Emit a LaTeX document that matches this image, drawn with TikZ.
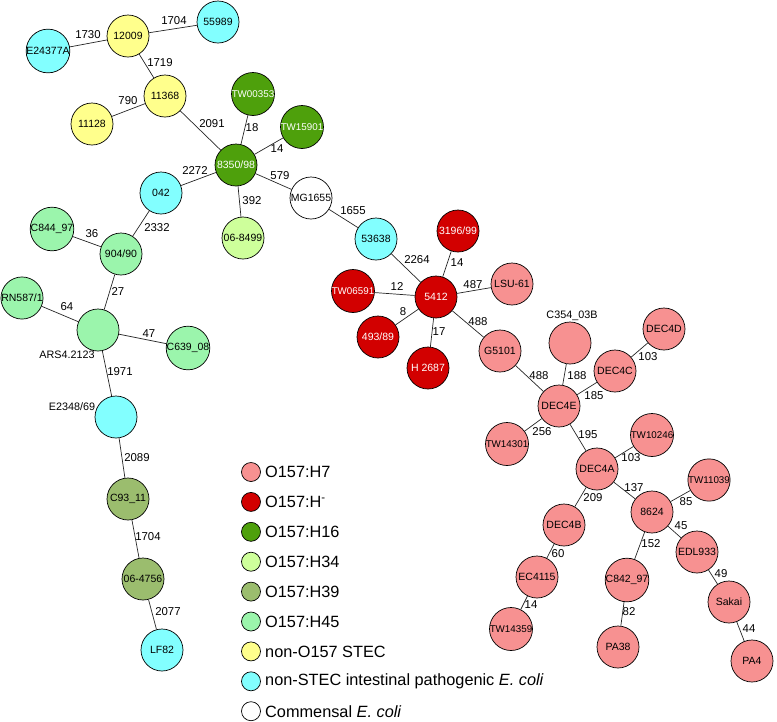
\documentclass[tikz,border=0pt]{standalone}
\usepackage{fontspec}
\setmainfont{Liberation Sans}
\usepackage{tikz}
\usetikzlibrary{positioning}

% colores por serotipo
\definecolor{hseven}{RGB}{247,145,145}
\definecolor{hminus}{RGB}{210,0,0}
\definecolor{hsixteen}{RGB}{78,160,12}
\definecolor{hthirtyfour}{RGB}{206,255,155}
\definecolor{hthirtynine}{RGB}{155,189,110}
\definecolor{hfortyfive}{RGB}{155,245,172}
\definecolor{stec}{RGB}{255,255,140}
\definecolor{nonstec}{RGB}{130,255,255}

\tikzset{
  strain/.style={circle, draw=black, line width=0.7pt, minimum size=42pt, inner sep=0pt, font=\fontsize{10.5}{12}\selectfont},
  twstrain/.style={strain, font=\fontsize{9.8}{11}\selectfont},
  link/.style={line width=0.7pt, draw=black!85},
  dist/.style={inner sep=0pt, font=\fontsize{11.4}{13}\selectfont},
  outlbl/.style={inner sep=0pt, font=\fontsize{10.8}{12}\selectfont},
  legdot/.style={circle, draw=black, line width=0.7pt, minimum size=19pt, inner sep=0pt},
  legtext/.style={anchor=west, inner sep=0pt, font=\fontsize{16.3}{19}\selectfont}
}

\begin{document}
\begin{tikzpicture}[x=1pt, y=-1pt]
    \useasboundingbox (0,0) rectangle (777,721);

    % 1. Cepas no-STEC (cian)
    \foreach \n/\x/\y/\t in {sE24377A/48/51/E24377A, s55989/218/22/55989, s042/161/193/042,
        s53638/376/239/53638, sE2348/116/417/{}, sLF82/162/650/LF82} {
        \node[strain, fill=nonstec] (\n) at (\x,\y) {\t};
    }

    % 2. STEC no-O157 (amarillo)
    \foreach \n/\x/\y/\t in {s12009/128/36/12009, s11368/165/96/11368, s11128/92/124/11128} {
        \node[strain, fill=stec] (\n) at (\x,\y) {\t};
    }

    % 3. O157:H16
    \node[twstrain, fill=hsixteen, text=white] (sTW00353) at (253,94) {TW00353};
    \node[twstrain, fill=hsixteen, text=white] (sTW15901) at (302,127) {TW15901};
    \node[strain, fill=hsixteen, text=white] (s8350) at (236,165) {8350/98};

    % 4. Comensal, H34, H39
    \node[strain, fill=white] (sMG1655) at (311,198) {MG1655};
    \node[strain, fill=hthirtyfour] (s068499) at (243,238) {06-8499};
    \node[strain, fill=hthirtynine] (sC9311) at (128,499) {C93\_11};
    \node[strain, fill=hthirtynine] (s064756) at (143,579) {06-4756};

    % 5. O157:H45
    \foreach \n/\x/\y/\t in {sC84497/52/229/C844\_97, s90490/121/254/{904/90}, sRN587/22/298/{RN587/1},
        sARS/98/330/{}, sC63908/188/348/C639\_08} {
        \node[strain, fill=hfortyfive] (\n) at (\x,\y) {\t};
    }

    % 6. O157:H- (rojo)
    \foreach \n/\x/\y/\t in {s319699/458/231/{3196/99}, s5412/436/297/5412, s49389/378/337/{493/89},
        sH2687/428/368/H 2687} {
        \node[strain, fill=hminus, text=white] (\n) at (\x,\y) {\t};
    }
    \node[twstrain, fill=hminus, text=white] (sTW06591) at (353,291) {TW06591};

    % 7. O157:H7 (rosa)
    \foreach \n/\x/\y/\t in {sLSU61/512/284/LSU-61, sG5101/500/351/G5101, sC354/570/343/{},
        sDEC4D/664/329/DEC4D, sDEC4C/615/371/DEC4C, sDEC4E/559/406/DEC4E, sDEC4A/597/469/DEC4A,
        s8624/652/512/8624, sDEC4B/564/525/DEC4B, sEDL933/697/552/EDL933, sEC4115/537/577/EC4115,
        sC84297/627/580/C842\_97, sSakai/729/602/Sakai, sPA38/618/647/PA38, sPA4/752/661/PA4} {
        \node[strain, fill=hseven] (\n) at (\x,\y) {\t};
    }
    \foreach \n/\x/\y/\t in {sTW14301/507/444/TW14301, sTW10246/652/435/TW10246,
        sTW11039/709/480/TW11039, sTW14359/511/629/TW14359} {
        \node[twstrain, fill=hseven] (\n) at (\x,\y) {\t};
    }

    % nombres fuera del circulo
    \node[outlbl] (tARS) at (67,355) {ARS4.2123};
    \node[outlbl] (tE2348) at (72,407) {E2348/69};
    \node[outlbl] (tC354) at (572,316) {C354\_03B};

    % 8. Conexiones
    \foreach \a/\b in {s12009/sE24377A, s12009/s55989, s12009/s11368, s11368/s11128, s11368/s8350,
        s8350/sTW00353, s8350/sTW15901, s8350/s042, s8350/s068499, s8350/sMG1655, sMG1655/s53638,
        s53638/s5412, s5412/s319699, s5412/sTW06591, s5412/s49389, s5412/sH2687, s5412/sLSU61,
        s5412/sG5101, sG5101/sDEC4E, sDEC4E/sC354, sDEC4E/sDEC4C, sDEC4C/sDEC4D, sDEC4E/sTW14301,
        sDEC4E/sDEC4A, sDEC4A/sTW10246, sDEC4A/sDEC4B, sDEC4A/s8624, s8624/sTW11039, s8624/sEDL933,
        s8624/sC84297, sEDL933/sSakai, sSakai/sPA4, sC84297/sPA38, sDEC4B/sEC4115, sEC4115/sTW14359,
        s042/s90490, s90490/sC84497, s90490/sARS, sARS/sRN587, sARS/sC63908, sARS/sE2348,
        sE2348/sC9311, sC9311/s064756, s064756/sLF82} {
        \draw[link] (\a) -- (\b);
    }

    % distancias
    \foreach \x/\y/\d [count=\i] in {88/35/1730, 174/21/1704, 160/63/1719, 128/101/790, 212/124/2091,
        252/128/18, 277/149/14, 195/171/2272, 280/176/579, 252/201/392, 353/211/1655, 417/260/2264,
        457/263/14, 397/287/12, 473/285/487, 403/312/8, 439/332/17, 478/322/488, 539/376/488,
        577/376/188, 648/357/103, 594/396/185, 542/432/256, 588/435/195, 631/458/103, 634/488/137,
        593/498/209, 686/502/85, 681/526/45, 651/544/152, 558/554/60, 721/574/49, 531/605/14,
        629/612/82, 749/629/44, 92/234/36, 157/228/2332, 118/292/27, 67/307/64, 149/334/47,
        120/372/1971, 137/458/2089, 148/537/1704, 168/612/2077} {
        \node[dist] (d\i) at (\x,\y) {\d};
    }

    % 9. Leyenda
    \foreach \c/\t [count=\i from 0] in {hseven/O157:H7, hminus/O157:H\textsuperscript{-},
        hsixteen/O157:H16, hthirtyfour/O157:H34, hthirtynine/O157:H39, hfortyfive/O157:H45,
        stec/non-O157 STEC, nonstec/non-STEC intestinal pathogenic \textit{E. coli},
        white/Commensal \textit{E. coli}} {
        \node[legdot, fill=\c] (leg\i) at (251,{472+29.9*\i}) {};
        \node[legtext] (legt\i) at (265,{472+29.9*\i}) {\t};
    }

\end{tikzpicture}
\end{document}
